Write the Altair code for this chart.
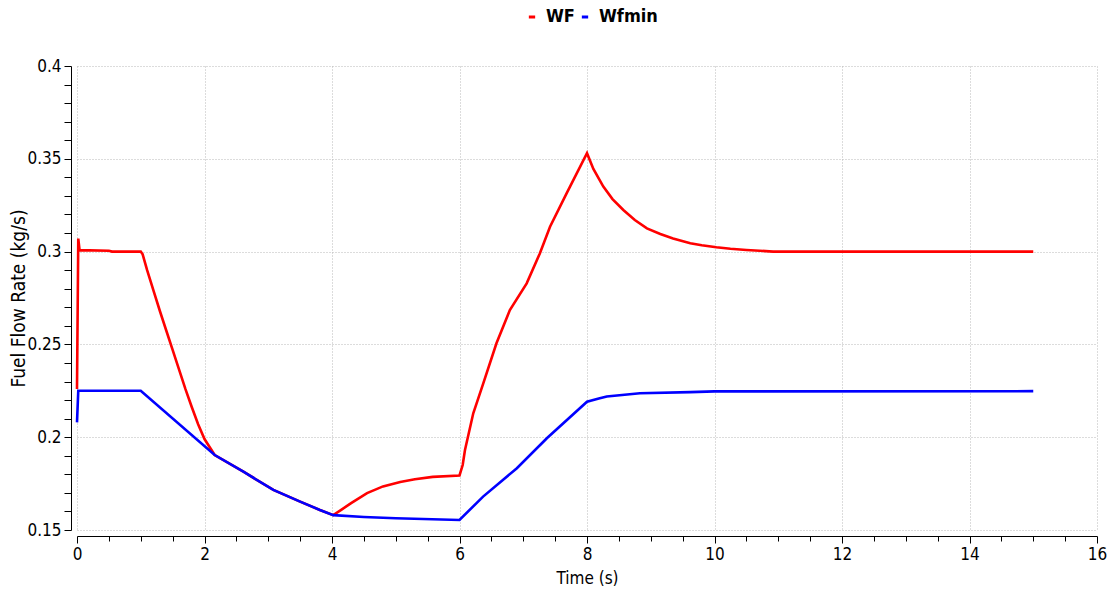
import altair as alt
import pandas as pd

# WF series (red)
wf_t = [0.0, 0.02, 0.04, 0.5, 0.55, 1.0, 1.03, 1.1, 1.2, 1.3, 1.4, 1.5, 1.6, 1.7, 1.8, 1.9, 2.0, 2.16,
        2.61, 3.08, 3.5, 3.81, 4.02, 4.15, 4.3, 4.55, 4.8, 5.07, 5.3, 5.58, 6.0,
        6.05, 6.086, 6.216, 6.373, 6.58, 6.79, 7.054, 7.26, 7.42, 7.68, 8.0,
        8.1, 8.256, 8.4, 8.57, 8.75, 8.94, 9.15, 9.35, 9.62, 9.8, 10.03, 10.25, 10.5, 10.92, 12.0, 15.0]
wf_v = [0.226, 0.307, 0.3008, 0.3005, 0.3, 0.3, 0.2985, 0.29, 0.279, 0.268, 0.2575, 0.247, 0.2365, 0.226,
        0.2163, 0.207, 0.199, 0.1904,
        0.1814, 0.1716, 0.1653, 0.1608, 0.158, 0.161, 0.1645, 0.1699, 0.1735, 0.1759, 0.1773, 0.1786, 0.1794,
        0.185, 0.1931, 0.2129, 0.229, 0.2506, 0.2685, 0.2829, 0.299, 0.3134, 0.3314, 0.353,
        0.3445, 0.335, 0.3283, 0.3224, 0.317, 0.3125, 0.3095, 0.3071, 0.3045, 0.3034, 0.3023, 0.3015,
        0.3009, 0.3, 0.3, 0.3]

# Wfmin series (blue)
wfmin_t = [0.0, 0.02, 1.0, 2.16, 2.61, 3.08, 3.5, 3.81, 4.02, 4.5, 5.0, 6.0,
           6.37, 6.9, 7.37, 8.0, 8.2, 8.31, 8.83, 9.62, 10.0, 15.0]
wfmin_v = [0.208, 0.225, 0.225, 0.1904, 0.1814, 0.1716, 0.1653, 0.1608, 0.158, 0.157, 0.1563, 0.1554,
           0.168, 0.1833, 0.1994, 0.2191, 0.221, 0.2219, 0.2237, 0.2243, 0.2247, 0.2248]

series_names = ["WF", "Wfmin"]
series_colors = ["#ff0000", "#0000ff"]

x_ticks = [i * 0.5 for i in range(33)]
y_ticks = [round(0.15 + i * 0.01, 2) for i in range(26)]

df = pd.concat([
    pd.DataFrame({"t": wf_t, "v": wf_v, "s": "WF", "o": range(len(wf_t))}),
    pd.DataFrame({"t": wfmin_t, "v": wfmin_v, "s": "Wfmin", "o": range(len(wfmin_t))}),
])

FONT = "DejaVu Sans Condensed"

x_major = "abs(datum.value % 2) < 0.001"
y_major = "abs(datum.value * 20 - round(datum.value * 20)) < 0.001"

chart = alt.Chart(df).mark_line(strokeWidth=2.6).encode(
    x=alt.X("t:Q", scale=alt.Scale(domain=[0, 16], nice=False, zero=False),
            axis=alt.Axis(values=x_ticks, title="Time (s)", offset=6,
                          labelExpr=f"{x_major} ? format(datum.value, 'd') : ''",
                          labelOverlap=False, labelFlush=False,
                          gridOpacity={"condition": {"test": x_major, "value": 1}, "value": 0},
                          tickSize={"condition": {"test": x_major, "value": 7}, "value": 5},
                          labelPadding=3)),
    y=alt.Y("v:Q", scale=alt.Scale(domain=[0.15, 0.4], nice=False, zero=False),
            axis=alt.Axis(values=y_ticks, title="Fuel Flow Rate (kg/s)", offset=6,
                          labelExpr=f"{y_major} ? format(datum.value, '.2~f') : ''",
                          labelOverlap=False, labelFlush=False,
                          gridOpacity={"condition": {"test": y_major, "value": 1}, "value": 0},
                          tickSize=7, labelPadding=3, titleFontSize=19)),
    color=alt.Color("s:N", scale=alt.Scale(domain=series_names, range=series_colors),
                    legend=alt.Legend(title=None, orient="none", direction="horizontal",
                                      legendX=446, legendY=-58, symbolType="stroke",
                                      symbolSize=40, symbolStrokeWidth=3,
                                      labelFont=FONT, labelFontSize=18, labelFontWeight="bold",
                                      labelColor="black", columnPadding=0, labelOffset=5)),
    order="o:Q",
).properties(
    width=1020, height=464,
    autosize=alt.AutoSizeParams(type="none"),
    padding={"left": 77, "top": 66, "right": 16, "bottom": 67},
).configure_view(stroke=None).configure_axis(
    labelFont=FONT, titleFont=FONT, labelFontSize=17, titleFontSize=17,
    labelColor="black", titleColor="black", titleFontWeight="normal",
    domainColor="black", tickColor="black", domainWidth=1,
    gridColor="#b8b8b8", gridDash=[1, 2], gridWidth=1,
).configure_axisX(titlePadding=8).configure_axisY(titlePadding=-2)

chart.save("out.html", embed_options={"renderer": "svg", "actions": False})
